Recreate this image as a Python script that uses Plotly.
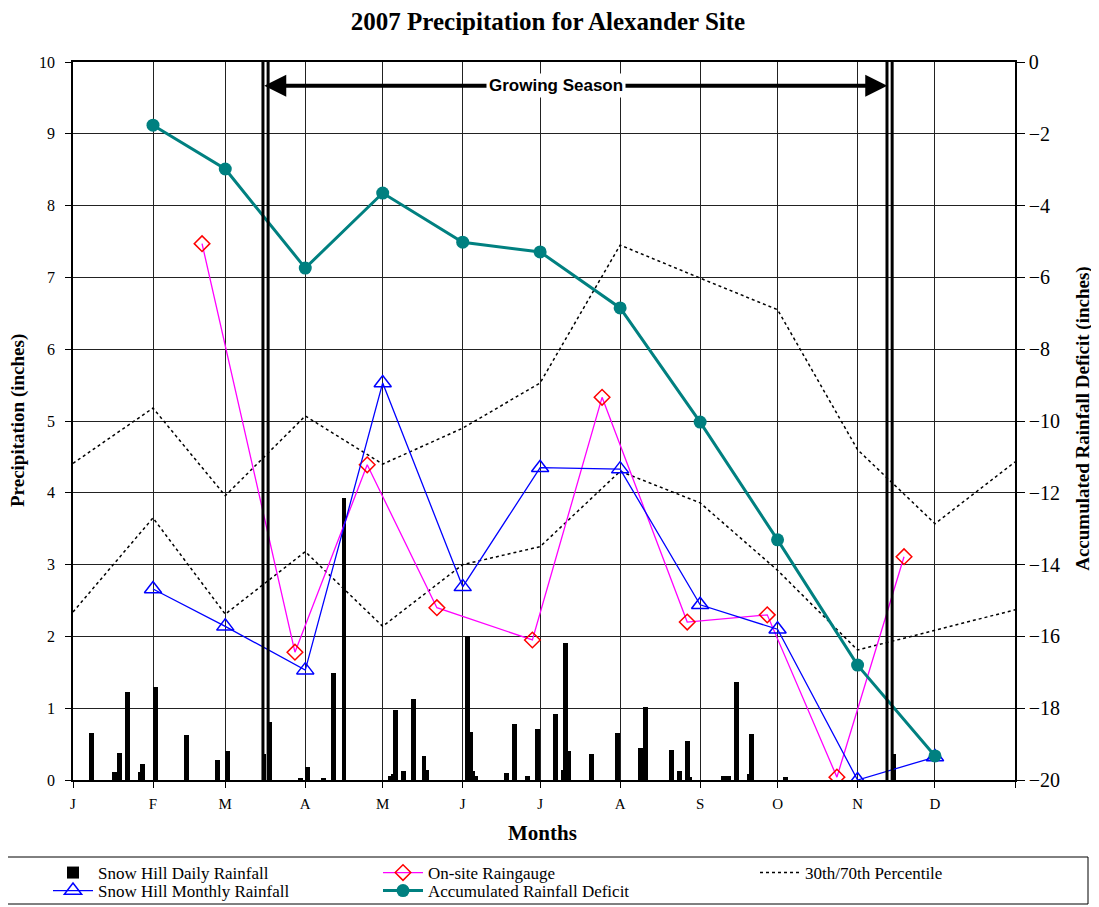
import plotly.graph_objects as go

# ---------------- data ----------------
month_labels = ["J", "F", "M", "A", "M", "J", "J", "A", "S", "O", "N", "D", ""]
month_days = [0, 31, 59, 90, 120, 151, 181, 212, 243, 273, 304, 334, 365]

# Snow Hill daily rainfall (day of year, inches)
daily_days = [7, 16, 18, 21, 26, 27, 32, 44, 56, 60, 74, 76, 88, 91, 97, 101, 105,
              123, 124, 125, 128, 132, 136, 137, 153, 154, 155, 156, 168, 171, 176,
              180, 187, 190, 191, 192, 201, 211, 220, 222, 232, 235, 238, 239, 252,
              254, 257, 262, 263, 276, 318]
daily_rain = [0.65, 0.11, 0.38, 1.22, 0.11, 0.22, 1.30, 0.63, 0.28, 0.40, 0.36, 0.81,
              0.03, 0.18, 0.03, 1.49, 3.93, 0.06, 0.08, 0.97, 0.12, 1.13, 0.34, 0.14,
              2.01, 0.67, 0.13, 0.05, 0.10, 0.78, 0.06, 0.71, 0.92, 0.14, 1.91, 0.41,
              0.36, 0.66, 0.44, 1.01, 0.42, 0.12, 0.55, 0.04, 0.06, 0.06, 1.36, 0.08,
              0.64, 0.04, 0.36]

# On-site raingauge
onsite_days = [50, 86, 114, 141, 178, 205, 238, 269, 296, 322]
onsite_rain = [7.47, 1.78, 4.39, 2.40, 1.95, 5.33, 2.20, 2.30, 0.04, 3.11]

# Snow Hill monthly rainfall (plotted at month starts Feb..Dec)
monthly_days = [31, 59, 90, 120, 151, 181, 212, 243, 273, 304, 334]
monthly_rain = [2.66, 2.14, 1.53, 5.53, 2.69, 4.35, 4.33, 2.44, 2.10, 0.00, 0.32]

# Accumulated rainfall deficit (right axis)
deficit = [-1.76, -2.98, -5.74, -3.65, -5.02, -5.29, -6.85, -10.03, -13.31, -16.80, -19.33]

# 30th / 70th percentiles at month starts
pct70 = [4.41, 5.18, 3.96, 5.07, 4.40, 4.90, 5.53, 7.45, 6.99, 6.55, 4.60, 3.57, 4.43]
pct30 = [2.34, 3.65, 2.31, 3.18, 2.14, 3.00, 3.25, 4.30, 3.86, 2.92, 1.81, 2.09, 2.37]

# Growing season bounds (day of year)
gs_start = 74.6
gs_end = 316.4

SERIF = "Liberation Serif"
SANS = "Liberation Sans"

fig = go.Figure()

fig.add_trace(go.Bar(
    x=daily_days, y=daily_rain, width=1.9, name="Snow Hill Daily Rainfall",
    marker=dict(color="black", line=dict(width=0)), legend="legend"))

fig.add_trace(go.Scatter(
    x=month_days + [None] + month_days, y=pct70 + [None] + pct30,
    mode="lines", name="30th/70th Percentile",
    line=dict(color="black", width=1.5, dash="dot"), legend="legend3"))

fig.add_trace(go.Scatter(
    x=onsite_days, y=onsite_rain, mode="lines+markers", name="On-site Raingauge",
    line=dict(color="#FF00FF", width=1.3),
    marker=dict(symbol="diamond-open", size=12, color="#FF0000", line=dict(width=1.5)),
    legend="legend2"))

fig.add_trace(go.Scatter(
    x=monthly_days, y=monthly_rain, mode="lines+markers", name="Snow Hill Monthly Rainfall",
    line=dict(color="#0000FF", width=1.3),
    marker=dict(symbol="triangle-up-open", size=15, color="#0000FF", line=dict(width=1.5)),
    legend="legend4"))

fig.add_trace(go.Scatter(
    x=monthly_days, y=deficit, mode="lines+markers", name="Accumulated Rainfall Deficit",
    yaxis="y2", line=dict(color="#008080", width=3),
    marker=dict(symbol="circle", size=13, color="#008080"), legend="legend5"))

# page offset (body margin) compensation: figure drawn at (8, 8)
W, H = 1091, 899
L, R, T, B = 65, 84, 54, 127
PW, PH = W - L - R, H - T - B

# growing season double lines
shapes = []
for xc in (gs_start, gs_end):
    for off in (-1.0, 1.0):
        shapes.append(dict(type="line", xref="x", yref="paper", x0=xc + off, x1=xc + off,
                           y0=0, y1=1, line=dict(color="black", width=3)))
# legend frame (page px 3..1088, 857..904)
shapes.append(dict(type="rect", xref="paper", yref="paper",
                   x0=(3 - 73) / PW, x1=(1088 - 73) / PW,
                   y0=(780 - 904) / PH, y1=(780 - 857) / PH,
                   line=dict(color="black", width=1), fillcolor="rgba(0,0,0,0)"))

arrow_y = 9.67
arrow_mid = 187
annotations = [
    dict(x=gs_start - 0.5, y=arrow_y, ax=arrow_mid, ay=arrow_y, xref="x", yref="y",
         axref="x", ayref="y", text="", showarrow=True, arrowhead=2, arrowsize=1.1,
         arrowwidth=4, arrowcolor="black"),
    dict(x=gs_end - 0.9, y=arrow_y, ax=arrow_mid, ay=arrow_y, xref="x", yref="y",
         axref="x", ayref="y", text="", showarrow=True, arrowhead=2, arrowsize=1.1,
         arrowwidth=4, arrowcolor="black"),
    dict(x=arrow_mid, y=arrow_y, xref="x", yref="y", text="<b>Growing Season</b>",
         showarrow=False, bgcolor="white", font=dict(family=SANS, size=17, color="black"),
         borderpad=2),
    # axis titles
    dict(x=(18 - 73) / PW, y=0.5, xref="paper", yref="paper", textangle=-90,
         text="<b>Precipitation (inches)</b>", showarrow=False,
         xanchor="center", yanchor="middle", font=dict(family=SERIF, size=19, color="black")),
    dict(x=(1083 - 73) / PW, y=0.503, xref="paper", yref="paper", textangle=-90,
         text="<b>Accumulated Rainfall Deficit (inches)</b>", showarrow=False,
         xanchor="center", yanchor="middle", font=dict(family=SERIF, size=19, color="black")),
    dict(x=(542 - 73) / PW, y=(780 - 833) / PH, xref="paper", yref="paper",
         text="<b>Months</b>", showarrow=False, xanchor="center", yanchor="middle",
         font=dict(family=SERIF, size=21, color="black")),
]


def leg(text_x_page, row_y_page):
    return dict(orientation="v", xref="container", yref="container",
                x=(text_x_page - 50 - 8) / W, y=1 - (row_y_page - 8) / H,
                xanchor="left", yanchor="middle",
                font=dict(family=SERIF, size=17, color="black"),
                bgcolor="rgba(0,0,0,0)", borderwidth=0, itemwidth=40)


fig.update_layout(
    width=W, height=H,
    margin=dict(l=L, r=R, t=T, b=B, autoexpand=False),
    paper_bgcolor="white", plot_bgcolor="white",
    title=dict(text="<b>2007 Precipitation for Alexander Site</b>", x=(548 - 8) / W,
               xanchor="center", y=1 - 13 / H, yanchor="middle", xref="container",
               yref="container", font=dict(family=SERIF, size=25, color="black")),
    font=dict(family=SERIF, color="black"),
    bargap=0,
    showlegend=True,
    legend=leg(98, 873),
    legend2=leg(428, 873),
    legend3=leg(805, 873),
    legend4=leg(98, 891),
    legend5=leg(428, 891),
    xaxis=dict(range=[0, 365], tickmode="array", tickvals=month_days, ticktext=month_labels,
               showgrid=True, gridcolor="#222", gridwidth=1, zeroline=False,
               showline=True, linecolor="black", linewidth=1.5, mirror=True,
               ticks="outside", ticklen=6, tickcolor="black", ticklabelstandoff=3,
               tickfont=dict(family=SERIF, size=15)),
    yaxis=dict(range=[0, 10], dtick=1, showgrid=True, gridcolor="#222", gridwidth=1,
               zeroline=False, showline=True, linecolor="black", linewidth=1.5,
               ticks="outside", ticklen=6, tickcolor="black", ticklabelstandoff=7,
               tickfont=dict(family=SERIF, size=16)),
    yaxis2=dict(range=[-20, 0], dtick=2, overlaying="y", side="right", showgrid=False,
                zeroline=False, showline=True, linecolor="black", linewidth=1.5,
                ticks="outside", ticklen=8, tickcolor="black",
                tickfont=dict(family=SERIF, size=20)),
    shapes=shapes,
    annotations=annotations,
)

fig.write_html("out.html")
